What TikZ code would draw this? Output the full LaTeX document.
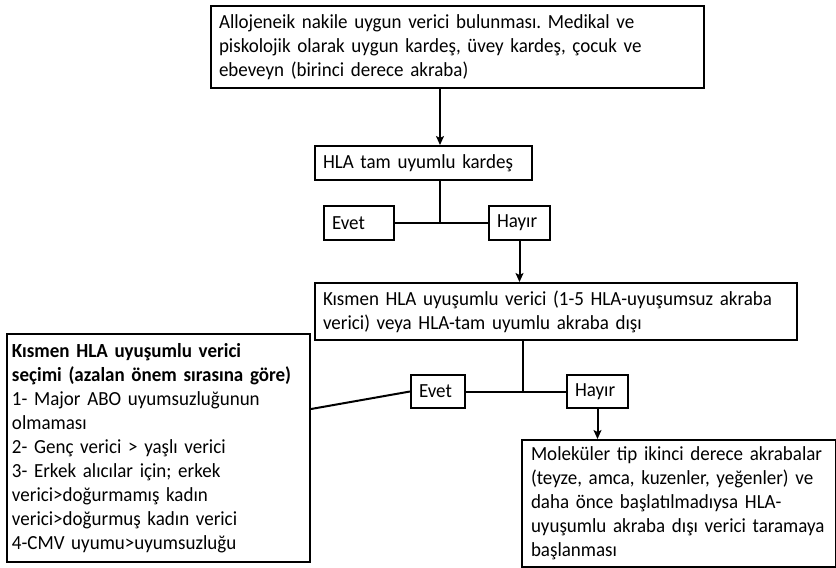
\documentclass[tikz,border=0pt]{standalone}
\usepackage{fontspec}
\setmainfont{Carlito}[FakeStretch=0.95]
\usetikzlibrary{positioning}
\usetikzlibrary{arrows.meta}
\frenchspacing
\hyphenpenalty=10000

\begin{document}
\begin{tikzpicture}[x=1pt, y=-1pt,
  box/.style={draw, line width=2pt, anchor=north west, align=left,
    inner xsep=8pt, inner ysep=0pt,
    font=\fontsize{20}{24}\selectfont},
  link/.style={line width=2pt},
  arr/.style={line width=2pt, -{Stealth[length=9pt, width=8pt, inset=2pt]}}]

\fill[white] (0,0) rectangle (836,568);
\useasboundingbox (0,0) rectangle (836,568);

\node[box, text width=477pt, minimum height=82pt] (alloj) at (210,5)
  {Allojeneik nakile uygun verici bulunması. Medikal ve\\
   piskolojik olarak uygun kardeş, üvey kardeş, çocuk ve\\
   ebeveyn (birinci derece akraba)};
\node[box, text width=201pt, minimum height=34pt] (hla) at (314,145) {HLA tam uyumlu kardeş};
\node[box, text width=54pt, minimum height=34pt] (evet1) at (323,205) {Evet};
\node[box, text width=45pt, minimum height=34pt] (hayir1) at (488,205) {Hayır};
\node[box, text width=466pt, minimum height=57pt] (kismen) at (314,282)
  {Kısmen HLA uyuşumlu verici (1-5 HLA-uyuşumsuz akraba\\
   verici) veya HLA-tam uyumlu akraba dışı};
\node[box, text width=38pt, minimum height=33pt] (evet2) at (410,374) {Evet};
\node[box, text width=45pt, minimum height=33pt] (hayir2) at (566,374) {Hayır};
\node[box, inner xsep=5pt, text width=293pt, minimum height=228pt] (secim) at (6,333)
  {\textbf{Kısmen HLA uyuşumlu verici}\\
   \textbf{seçimi (azalan önem sırasına göre)}\\
   1- Major ABO uyumsuzluğunun\\
   olmaması\\
   2- Genç verici > yaşlı verici\\
   3- Erkek alıcılar için; erkek\\
   verici>doğurmamış kadın\\
   verici>doğurmuş kadın verici\\
   4-CMV uyumu>uyumsuzluğu};
\node[box, inner xsep=9pt, text width=296pt, minimum height=127pt] (molek) at (521,439)
  {Moleküler tip ikinci derece akrabalar\\
   (teyze, amca, kuzenler, yeğenler) ve\\
   daha önce başlatılmadıysa HLA-\\
   uyuşumlu akraba dışı verici taramaya\\
   başlanması};

\coordinate (j1) at (440,222);
\coordinate (j2) at (523,392);

\draw[arr] (alloj.south -| j1) -- (hla.north -| j1);
\draw[link] (hla.south -| j1) -- (j1);
\draw[link] (evet1.east) -- (hayir1.west);
\draw[arr] (hayir1.south) -- (kismen.north -| hayir1.south);

\draw[link] (kismen.south -| j2) -- (j2);
\draw[link] (evet2.east) -- (hayir2.west);
\draw[link] (evet2.west) -- (secim.east |- evet2.south);
\draw[arr] (hayir2.south) -- (molek.north -| hayir2.south);
\end{tikzpicture}
\end{document}
